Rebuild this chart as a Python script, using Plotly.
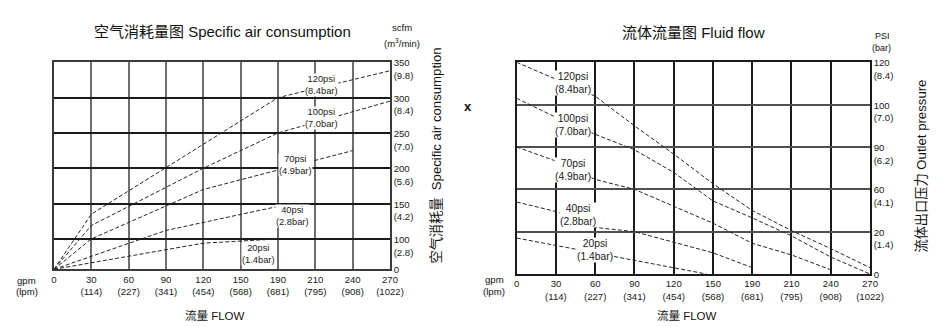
import numpy as np
import plotly.graph_objects as go

W, H = 950, 327
FONT = "Liberation Sans, Arial, Noto Sans CJK SC, sans-serif"

# ---------------- data ----------------
flow_gpm = [0, 30, 60, 90, 120, 150, 190, 210, 240, 270]
flow_lpm = ["", "(114)", "(227)", "(341)", "(454)", "(568)", "(681)", "(795)", "(908)", "(1022)"]

air_scfm_ticks = [0, 100, 150, 200, 250, 300, 350]
air_m3_ticks = ["", "(2.8)", "(4.2)", "(5.6)", "(7.0)", "(8.4)", "(9.8)"]

press_psi_ticks = [0, 20, 60, 90, 100, 120]
press_bar_ticks = ["", "(1.4)", "(4.1)", "(6.2)", "(7.0)", "(8.4)"]

series_psi = ["120psi", "100psi", "70psi", "40psi", "20psi"]
series_bar = ["(8.4bar)", "(7.0bar)", "(4.9bar)", "(2.8bar)", "(1.4bar)"]

# Specific air consumption (scfm) vs flow (gpm)
air_120_gpm = [0, 30, 190, 270]
air_120_scfm = [0, 135, 300, 338]
air_100_gpm = [0, 30, 120, 190, 270]
air_100_scfm = [0, 119, 200, 250, 295]
air_70_gpm = [0, 30, 120, 190, 240]
air_70_scfm = [0, 100, 170, 197, 225]
air_40_gpm = [0, 30, 90, 190]
air_40_scfm = [0, 42, 112, 146]
air_20_gpm = [0, 30, 120, 190]
air_20_scfm = [0, 22, 86, 100]

# Fluid flow: outlet pressure (psi) vs flow (gpm)
fluid_120_gpm = [0, 30, 60, 90, 120, 150, 190, 210, 240, 270]
fluid_120_psi = [120, 112, 104, 95, 85, 64, 40, 21, 12, 3]
fluid_100_gpm = [0, 30, 60, 90, 120, 150, 190, 210, 240, 270]
fluid_100_psi = [103, 97, 93, 88, 72, 49, 33, 18, 8, 0]
fluid_70_gpm = [0, 30, 60, 90, 120, 150, 190, 210, 240]
fluid_70_psi = [90, 80, 67, 60, 44, 28, 14.5, 9, 2]
fluid_40_gpm = [0, 30, 60, 90, 120, 150, 190]
fluid_40_psi = [48, 39, 24, 20, 15, 10, 3]
fluid_20_gpm = [0, 30, 60, 90, 120, 145]
fluid_20_psi = [17, 13.5, 10.2, 6.5, 3.2, 0]

# ---------------- scales (grid is evenly spaced per tick) ----------------
AIR_FIRST = 0.86  # first (0-100) cell of the air chart is shorter than the others
air_pos = np.concatenate([[0.0], AIR_FIRST + np.arange(len(air_scfm_ticks) - 1)])
press_pos = np.arange(len(press_psi_ticks), dtype=float)
flow_pos = np.arange(len(flow_gpm), dtype=float)


def gx(g):
    return np.interp(g, flow_gpm, flow_pos)


def ay(v):
    return np.interp(v, air_scfm_ticks, air_pos)


def py_(v):
    return np.interp(v, press_psi_ticks, press_pos)


fig = go.Figure()

line_style = dict(color="#262626", width=1, dash="4px,2.2px")

air_series = [(air_120_gpm, air_120_scfm), (air_100_gpm, air_100_scfm),
              (air_70_gpm, air_70_scfm), (air_40_gpm, air_40_scfm),
              (air_20_gpm, air_20_scfm)]
fluid_series = [(fluid_120_gpm, fluid_120_psi), (fluid_100_gpm, fluid_100_psi),
                (fluid_70_gpm, fluid_70_psi), (fluid_40_gpm, fluid_40_psi),
                (fluid_20_gpm, fluid_20_psi)]

for (gx_, yv) in air_series:
    fig.add_trace(go.Scatter(x=gx(gx_), y=ay(yv), mode="lines", line=line_style,
                             xaxis="x", yaxis="y", showlegend=False, hoverinfo="skip"))
for (gx_, yv) in fluid_series:
    fig.add_trace(go.Scatter(x=gx(gx_), y=py_(yv), mode="lines", line=line_style,
                             xaxis="x2", yaxis="y2", showlegend=False, hoverinfo="skip"))

x_ticktext = ["0"] + [f"{g}<br>{l}" for g, l in zip(flow_gpm[1:], flow_lpm[1:])]
air_ticktext = ["0<br> "] + [f"{v}<br>{m}" for v, m in zip(air_scfm_ticks[1:], air_m3_ticks[1:])]
press_ticktext = ["0<br> "] + [f"{v}<br>{b}" for v, b in zip(press_psi_ticks[1:], press_bar_ticks[1:])]

tickfont = dict(family=FONT, size=9.6, color="#1a1a1a")

common_x = dict(range=[0, len(flow_gpm) - 1], tickmode="array", tickvals=flow_pos,
                ticktext=x_ticktext, ticks="", showline=True, mirror=True,
                zeroline=False, tickfont=tickfont, fixedrange=True, automargin=False)
common_y = dict(tickmode="array", ticks="", side="right", showline=True, mirror=True,
                zeroline=False, tickfont=tickfont, fixedrange=True, automargin=False,
                ticklabelshift=7)

fig.update_layout(
    xaxis=dict(domain=[54 / W, 390 / W], anchor="y", gridcolor="#6e6e6e", gridwidth=2,
               linecolor="#3a3a3a", linewidth=1.5, **common_x),
    yaxis=dict(domain=[1 - 269.3 / H, 1 - 62.3 / H], anchor="x", range=[0, air_pos[-1]],
               tickvals=air_pos, ticktext=air_ticktext, gridcolor="#1a1a1a", gridwidth=1.5,
               linecolor="#3a3a3a", linewidth=1.5, **common_y),
    xaxis2=dict(domain=[516.7 / W, 870 / W], anchor="y2", gridcolor="#1a1a1a", gridwidth=1.5,
                linecolor="#1a1a1a", linewidth=1.5, **common_x),
    yaxis2=dict(domain=[1 - 274 / H, 1 - 62.3 / H], anchor="x2", range=[0, press_pos[-1]],
                tickvals=press_pos, ticktext=press_ticktext, gridcolor="#505050", gridwidth=1.8,
                linecolor="#1a1a1a", linewidth=1.5, **common_y),
)

annotations = []

# curve labels (positions given in gpm / axis units)
air_label_at = [(215, 318), (215, 271), (199.6, 204.7), (198, 132), (169, 50.8)]
fluid_label_at = [(43, 110.3), (43, 95.2), (43, 74), (47, 36), (59.8, 11.5)]
for name, bar, (lx, ly) in zip(series_psi, series_bar, air_label_at):
    annotations.append(dict(text=f"{name}<br>{bar}", x=float(gx(lx)), y=float(ay(ly)),
                            xref="x", yref="y", showarrow=False, bgcolor="white",
                            borderpad=0, font=dict(family=FONT, size=9.3, color="#1a1a1a")))
for name, bar, (lx, ly) in zip(series_psi, series_bar, fluid_label_at):
    annotations.append(dict(text=f"{name}<br>{bar}", x=float(gx(lx)), y=float(py_(ly)),
                            xref="x2", yref="y2", showarrow=False, bgcolor="white",
                            borderpad=0, font=dict(family=FONT, size=10.3, color="#1a1a1a")))


def pa(text, px, py, size, angle=0, **kw):
    return dict(text=text, x=px / W, y=1 - py / H, xref="paper", yref="paper",
                xanchor="center", yanchor="middle", showarrow=False, textangle=angle,
                font=dict(family=FONT, size=size, color="#111111"), **kw)


annotations += [
    pa("空气消耗量图 Specific air consumption", 222.7, 31, 15),
    pa("流体流量图 Fluid flow", 693.3, 32.3, 15),
    pa("scfm", 402.3, 27.3, 9.5),
    pa("(m<sup>3</sup>/min)", 402.3, 43.3, 9.5),
    pa("PSI", 882, 36, 9),
    pa("(bar)", 881, 48.3, 9),
    pa("空气消耗量  Specific air consumption", 436.7, 155.8, 13.2, angle=-90),
    pa("流体出口压力 Outlet pressure", 921.7, 165.8, 13.2, angle=-90),
    pa("gpm", 26.7, 280, 9.6),
    pa("(lpm)", 26.7, 291.5, 9.6),
    pa("gpm", 494, 279.3, 9.6),
    pa("(lpm)", 494, 291.7, 9.6),
    pa("流量 FLOW", 215, 315, 11.5),
    pa("流量 FLOW", 686.7, 315, 11.5),
    pa("<b>x</b>", 468, 106.5, 13),
]

fig.update_layout(
    annotations=annotations,
    width=W, height=H, autosize=False,
    margin=dict(l=0, r=0, t=0, b=0, pad=0),
    paper_bgcolor="white", plot_bgcolor="white",
    font=dict(family=FONT, color="#1a1a1a"),
    showlegend=False,
)

fig.write_html("out.html", config={"displayModeBar": False})
